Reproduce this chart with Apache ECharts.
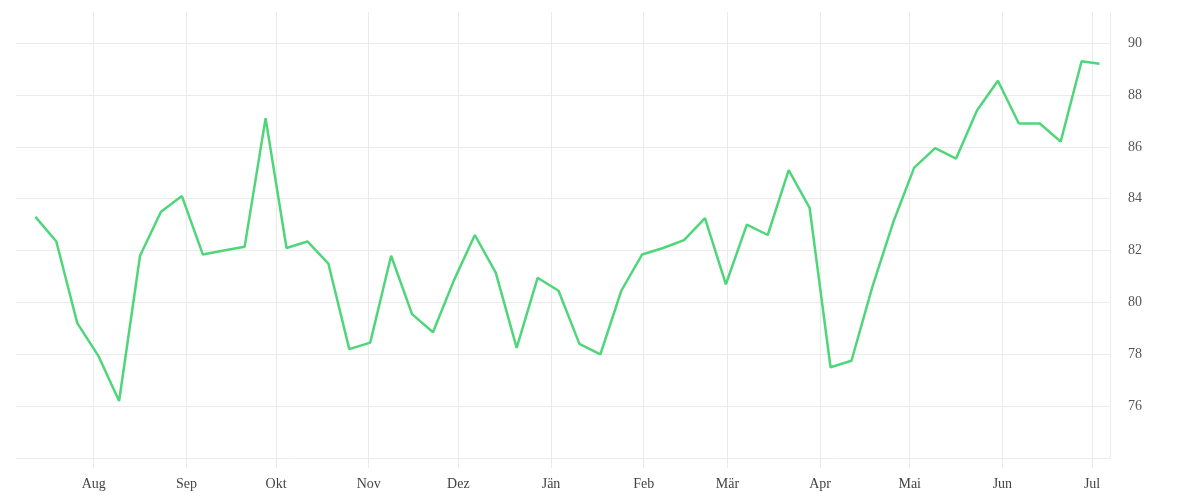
<!DOCTYPE html>
<html><head><meta charset="utf-8">
<script src="https://cdn.jsdelivr.net/npm/echarts@6/dist/echarts.min.js"></script>
<style>body{margin:0}#c{width:1200px;height:500px}</style></head>
<body><div id="c"></div>
<script>
const monthNames = ['Jän','Feb','Mär','Apr','Mai','Jun','Jul','Aug','Sep','Okt','Nov','Dez'];
const values = [83.3,82.35,79.2,77.95,76.2,81.8,83.5,84.1,81.85,82.0,82.15,87.1,82.1,82.35,81.5,78.2,78.45,81.8,79.55,78.85,80.85,82.6,81.15,78.25,80.95,80.45,78.4,78.0,80.45,81.85,82.1,82.4,83.25,80.7,83.0,82.6,85.1,83.65,77.5,77.75,80.6,83.1,85.2,85.95,85.55,87.4,88.55,86.9,86.9,86.2,89.3,89.2];
const dates = [];
const t0 = Date.UTC(2018,6,12,12);
for (let i=0;i<values.length-1;i++) dates.push(t0 + i*7*86400000);
dates.push(Date.UTC(2019,6,3,12));
const data = values.map((v,i)=>[dates[i],v]);
const font = "'Liberation Serif', serif";
const chart = echarts.init(document.getElementById('c'));
chart.setOption({
  animation:false,
  grid:{left:16,right:90,top:12,bottom:42},
  xAxis:{type:'time',min:Date.UTC(2018,6,6),max:Date.UTC(2019,6,7),splitNumber:12,
    axisLine:{show:false},
    axisTick:{show:true,length:10,lineStyle:{color:'#ebebeb'}},
    splitLine:{show:true,showMinLine:false,showMaxLine:false,lineStyle:{color:'#ebebeb'}},
    axisLabel:{color:'#444',fontFamily:font,fontSize:14,margin:19,
      formatter:(v)=>monthNames[new Date(v).getUTCMonth()]}},
  yAxis:{type:'value',position:'right',min:74,max:91.2,interval:2,
    axisLine:{show:true,lineStyle:{color:'#ebebeb'}},axisTick:{show:false},
    splitLine:{showMaxLine:false,lineStyle:{color:'#ebebeb'}},
    axisLabel:{color:'#555',fontFamily:font,fontSize:14,margin:18,showMinLabel:false,showMaxLabel:false}},
  series:[{type:'line',data:data,symbol:'none',lineStyle:{color:'#4fd67b',width:2.5}}]
});
</script></body></html>
